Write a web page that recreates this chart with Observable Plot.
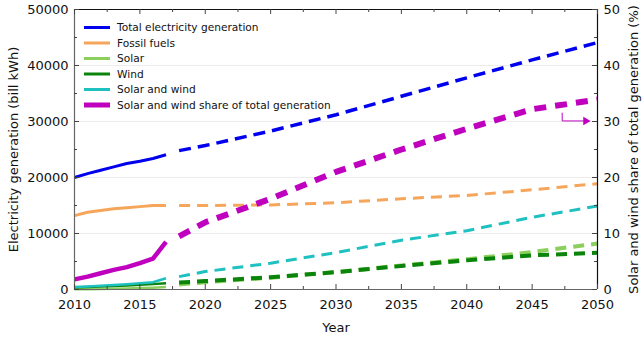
<!DOCTYPE html>
<html>
<head>
<meta charset="utf-8">
<script src="https://cdn.jsdelivr.net/npm/d3@7"></script>
<script src="https://cdn.jsdelivr.net/npm/@observablehq/plot@0.6"></script>
<style>
  html, body { margin: 0; padding: 0; background: #fff; }
  #chart svg { display: block; }
</style>
</head>
<body>
<div id="chart"></div>
<script>
// Historical generation (bill kWh), 2010–2017
const histYears     = [2010, 2011, 2012, 2013, 2014, 2015, 2016, 2017];
const totalHist     = [20000, 20700, 21300, 21900, 22500, 22900, 23400, 24050];
const fossilHist    = [13200, 13800, 14100, 14400, 14600, 14800, 15000, 15000];
const solarHist     = [30, 60, 100, 140, 190, 250, 330, 450];
const windHist      = [340, 440, 520, 630, 710, 830, 960, 1130];
const solarWindHist = [450, 550, 650, 800, 950, 1100, 1300, 2000];
const shareHist     = [1.8, 2.3, 2.9, 3.5, 4.0, 4.7, 5.5, 8.5]; // %

// Projected generation (bill kWh), 2018–2050
const projYears     = [2018, 2020, 2025, 2030, 2035, 2040, 2045, 2050];
const totalProj     = [24800, 25700, 28300, 31200, 34500, 37800, 41000, 44100];
const fossilProj    = [15000, 15000, 15100, 15500, 16200, 16800, 17800, 18900];
const solarProj     = [900, 1300, 2100, 3100, 4300, 5400, 6700, 8200];
const windProj      = [1250, 1500, 2200, 3100, 4200, 5200, 6100, 6550];
const solarWindProj = [2300, 3200, 4700, 6600, 8800, 10500, 12900, 14900];
const shareProj     = [9.5, 12.0, 16.2, 21.0, 25.0, 28.7, 32.2, 33.9]; // %

// Axis ticks
const leftTicks  = [0, 10000, 20000, 30000, 40000, 50000];
const rightTicks = [0, 10, 20, 30, 40, 50];
const yearTicks  = [2010, 2015, 2020, 2025, 2030, 2035, 2040, 2045, 2050];

// Legend entries, top to bottom
const legendLabels = [
  "Total electricity generation",
  "Fossil fuels",
  "Solar",
  "Wind",
  "Solar and wind",
  "Solar and wind share of total generation"
];

// Arrow pointing the share curve at the 30 % tick of the right axis
const shareArrow = [
  {year: 2047.3, share: 31.5},
  {year: 2047.3, share: 30.1},
  {year: 2049.1, share: 30.1}
];

// ---- styling --------------------------------------------------------
const colors = {
  total: "#0000ee",
  fossil: "#f5a65b",
  solar: "#8ccf5c",
  wind: "#0b840b",
  solarWind: "#1ec0c0",
  share: "#bf00bf"
};
const legendColors = [colors.total, colors.fossil, colors.solar, colors.wind, colors.solarWind, colors.share];
const legendWidths = [3, 3, 3, 3, 3, 5];

const W = 643, H = 341;
const M = {top: 9, right: 46, bottom: 52, left: 74};
const xDomain = [2010, 2050], yDomain = [0, 50000];
// The share (%) shares the left scale: 1 % ↔ 1000 bill kWh
const shareScale = 1000;

// one pixel in data units, for tick lengths
const pxX = (xDomain[1] - xDomain[0]) / (W - M.left - M.right);
const pxY = (yDomain[1] - yDomain[0]) / (H - M.top - M.bottom);

const rows = (years, values) => years.map((year, i) => ({year, value: values[i]}));
const shareRows = (years, values) => years.map((year, i) => ({year, value: values[i] * shareScale}));

const solidLine = (data, stroke, strokeWidth) =>
  Plot.line(data, {x: "year", y: "value", stroke, strokeWidth, strokeLinejoin: "round", strokeLinecap: "butt"});
const dashedLine = (data, stroke, strokeWidth, dash) =>
  Plot.line(data, {x: "year", y: "value", stroke, strokeWidth, strokeDasharray: dash, strokeLinecap: "butt"});

const minorY = d3.range(5000, 50000, 10000);
const minorX = d3.range(2012.5, 2050, 5);

const spine = "#444";
const majorLenX = 5 * pxX, minorLenX = 3 * pxX;
const majorLenY = 5 * pxY, minorLenY = 3 * pxY;

const chart = Plot.plot({
  width: W,
  height: H,
  marginTop: M.top,
  marginRight: M.right,
  marginBottom: M.bottom,
  marginLeft: M.left,
  style: {fontFamily: "'DejaVu Sans', sans-serif", fontSize: "13px", color: "#111", background: "#fff"},
  x: {domain: xDomain},
  y: {domain: yDomain},
  marks: [
    // horizontal gridlines
    Plot.ruleY(leftTicks.slice(1, -1), {stroke: "#ececec", strokeWidth: 1}),

    // historical series (solid)
    solidLine(rows(histYears, solarHist), colors.solar, 2.5),
    solidLine(rows(histYears, windHist), colors.wind, 2.5),
    solidLine(rows(histYears, solarWindHist), colors.solarWind, 2.5),
    solidLine(rows(histYears, fossilHist), colors.fossil, 3),
    solidLine(rows(histYears, totalHist), colors.total, 3),
    solidLine(shareRows(histYears, shareHist), colors.share, 4.5),

    // projections (dashed)
    dashedLine(rows(projYears, solarProj), colors.solar, 4, "11,7"),
    dashedLine(rows(projYears, windProj), colors.wind, 4, "11,7"),
    dashedLine(rows(projYears, solarWindProj), colors.solarWind, 3, "11,7"),
    dashedLine(rows(projYears, fossilProj), colors.fossil, 3, "11,7"),
    dashedLine(rows(projYears, totalProj), colors.total, 3.5, "12,7"),
    dashedLine(shareRows(projYears, shareProj), colors.share, 6, "12,9"),

    // annotation arrow to the right axis
    Plot.line(shareArrow, {x: "year", y: d => d.share * shareScale, stroke: colors.share, strokeWidth: 1}),
    Plot.dot(shareArrow.slice(-1), {x: "year", y: d => d.share * shareScale, symbol: "triangle", rotate: 90, r: 3.2, fill: colors.share, stroke: "none"}),

    // frame
    Plot.ruleX([xDomain[0]], {stroke: "#666", strokeWidth: 1.2}),
    Plot.ruleY([yDomain[0]], {stroke: "#666", strokeWidth: 1.2}),
    Plot.ruleX([xDomain[1]], {stroke: "#111", strokeWidth: 1.2}),
    Plot.ruleY([yDomain[1]], {stroke: "#111", strokeWidth: 1.2}),

    // inward ticks: left and right
    Plot.ruleY(leftTicks, {y: d => d, x1: xDomain[0], x2: xDomain[0] + majorLenX, stroke: spine}),
    Plot.ruleY(minorY, {y: d => d, x1: xDomain[0], x2: xDomain[0] + minorLenX, stroke: spine}),
    Plot.ruleY(leftTicks, {y: d => d, x1: xDomain[1], x2: xDomain[1] - majorLenX, stroke: spine}),
    Plot.ruleY(minorY, {y: d => d, x1: xDomain[1], x2: xDomain[1] - minorLenX, stroke: spine}),
    // inward ticks: bottom and top
    Plot.ruleX(yearTicks, {x: d => d, y1: yDomain[0], y2: yDomain[0] + majorLenY, stroke: spine}),
    Plot.ruleX(minorX, {x: d => d, y1: yDomain[0], y2: yDomain[0] + minorLenY, stroke: spine}),
    Plot.ruleX(yearTicks, {x: d => d, y1: yDomain[1], y2: yDomain[1] - majorLenY, stroke: spine}),
    Plot.ruleX(minorX, {x: d => d, y1: yDomain[1], y2: yDomain[1] - minorLenY, stroke: spine}),

    // axes (labels only; ticks drawn above)
    Plot.axisY({
      anchor: "left", ticks: leftTicks, tickFormat: d => String(d), tickSize: 0, tickPadding: 6,
      fontSize: 13, label: "Electricity generation (bill kWh)", labelAnchor: "center", labelOffset: 66, labelArrow: "none"
    }),
    Plot.axisY({
      anchor: "right", ticks: rightTicks.map(d => d * shareScale), tickFormat: d => String(d / shareScale),
      tickSize: 0, tickPadding: 6, fontSize: 13,
      label: "Solar and wind share of total generation (%)", labelAnchor: "center", labelOffset: 40, labelArrow: "none"
    }),
    Plot.axisX({
      ticks: yearTicks, tickFormat: d => String(d), tickSize: 0, tickPadding: 10,
      fontSize: 13, label: "Year", labelAnchor: "center", labelOffset: 42, labelArrow: "none"
    })
  ]
});

// Legend drawn into the plot's SVG, upper-left inside the frame
const svg = d3.select(chart);
const legend = svg.append("g")
  .attr("font-family", "'DejaVu Sans', sans-serif")
  .attr("font-size", 10.6)
  .attr("text-anchor", "start");
const rowY = i => 27.5 + i * 15.5;
legendLabels.forEach((label, i) => {
  legend.append("line")
    .attr("x1", 84).attr("x2", 110)
    .attr("y1", rowY(i)).attr("y2", rowY(i))
    .attr("stroke", legendColors[i])
    .attr("stroke-width", legendWidths[i]);
  legend.append("text")
    .attr("x", 117).attr("y", rowY(i))
    .attr("dy", "0.35em")
    .attr("text-anchor", "start")
    .attr("fill", "#111")
    .text(label);
});

document.getElementById("chart").append(chart);
</script>
</body>
</html>
